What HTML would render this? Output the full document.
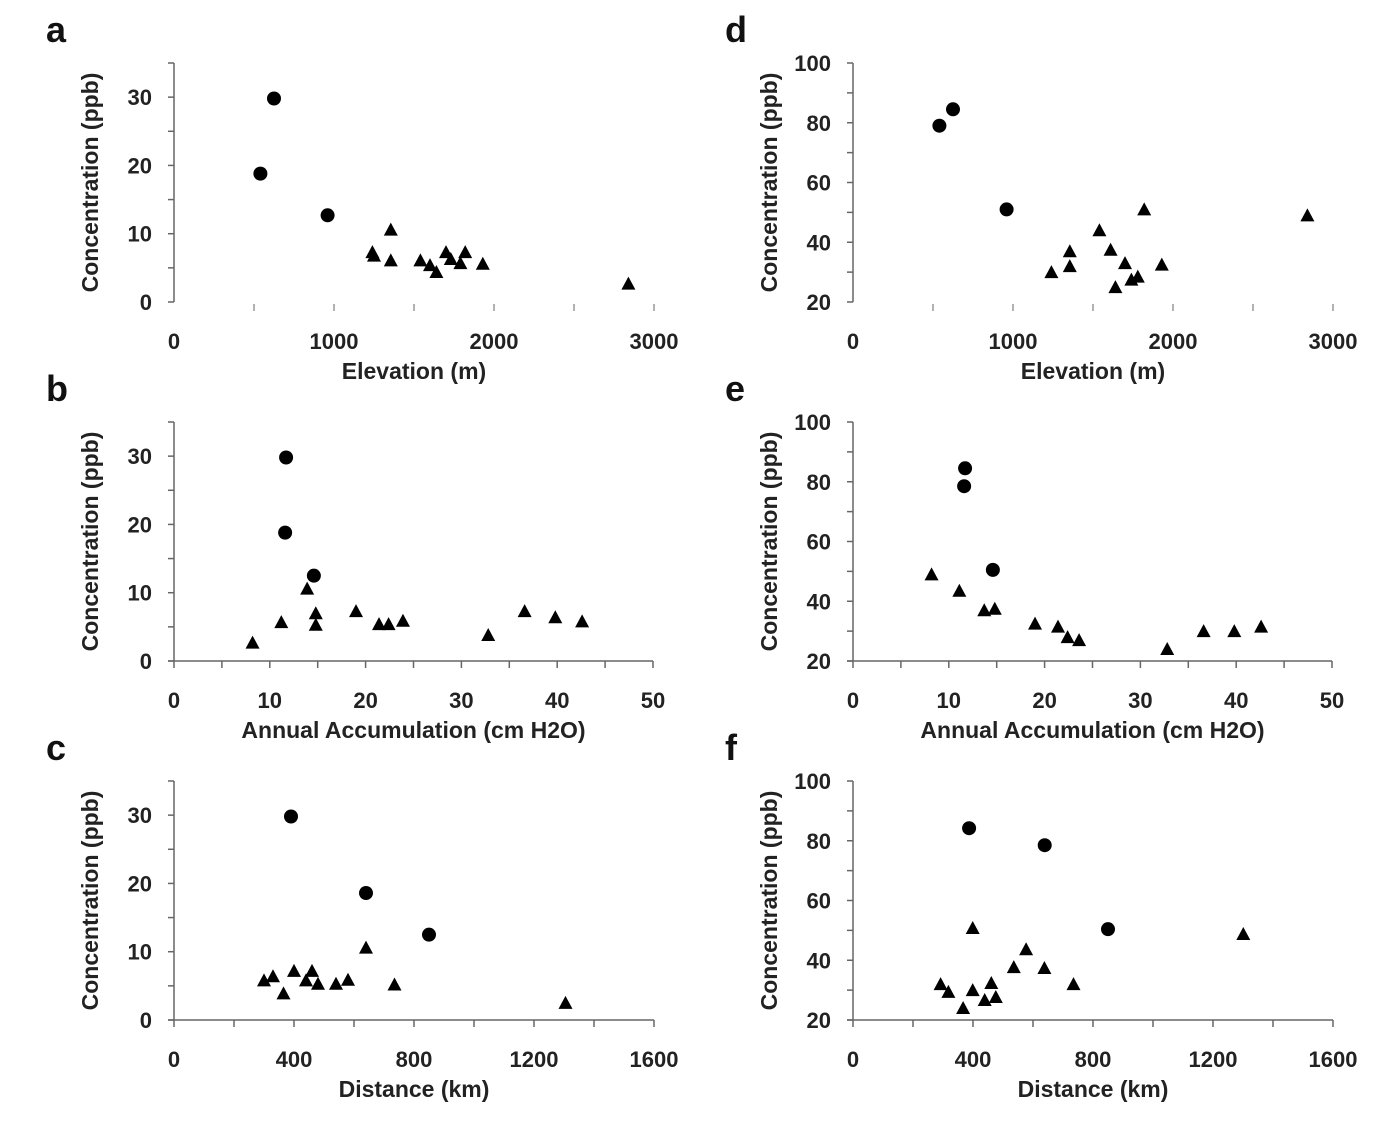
<!DOCTYPE html>
<html><head><meta charset="utf-8">
<style>
body{margin:0;background:#fff;}
svg{display:block;font-family:"Liberation Sans",Arial,sans-serif;}
.tl{font-size:22px;font-weight:bold;fill:#222;}
.at{font-size:23px;font-weight:bold;fill:#222;}
.pl{font-size:36px;font-weight:bold;fill:#111;}
</style></head>
<body>
<svg id="fig" width="1400" height="1122" viewBox="0 0 1400 1122"></svg>
<script>
// Panel a: elevation vs concentration (left scale)
const aCircX=[540,625,960];
const aCircY=[18.8,29.8,12.7];
const aTriX=[1240,1250,1355,1355,1540,1600,1640,1700,1730,1790,1820,1930,2840];
const aTriY=[7.3,6.8,10.6,6.1,6.1,5.4,4.4,7.3,6.3,5.7,7.3,5.6,2.7];
// Panel b: accumulation
const bCircX=[11.7,11.6,14.6];
const bCircY=[29.8,18.8,12.5];
const bTriX=[8.2,11.2,13.9,14.8,14.8,19,21.4,22.4,23.9,32.8,36.6,39.8,42.6];
const bTriY=[2.7,5.7,10.6,7.0,5.3,7.3,5.4,5.4,5.9,3.8,7.3,6.4,5.8];
// Panel c: distance
const cCircX=[390,640,850];
const cCircY=[29.8,18.6,12.5];
const cTriX=[300,330,365,400,440,460,480,540,580,640,735,1305];
const cTriY=[5.8,6.4,3.9,7.2,5.8,7.2,5.3,5.3,5.9,10.6,5.2,2.5];
// Panel d
const dCircX=[540,625,960];
const dCircY=[79,84.5,51];
const dTriX=[1240,1355,1355,1540,1610,1640,1700,1740,1780,1820,1930,2840];
const dTriY=[30,37,32,44,37.5,25,33,27.5,28.5,51,32.5,49];
// Panel e
const eCircX=[11.6,11.7,14.6];
const eCircY=[78.5,84.5,50.5];
const eTriX=[8.2,11.1,13.7,14.8,19,21.4,22.4,23.6,32.8,36.6,39.8,42.6];
const eTriY=[49,43.5,37,37.5,32.5,31.5,28,27,24,30,30,31.5];
// Panel f
const fCircX=[387,639,850];
const fCircY=[84.2,78.5,50.4];
const fTriX=[292,318,367,399,399,439,461,476,536,577,638,735,1301];
const fTriY=[32,29.4,24,50.8,30,26.7,32.4,27.7,37.7,43.7,37.4,32,48.8];
// Axis ticks
const elevTicks=[0,1000,2000,3000];
const accTicks=[0,10,20,30,40,50];
const distTicks=[0,400,800,1200,1600];
const leftYTicks=[0,10,20,30];
const rightYTicks=[20,40,60,80,100];

const NS="http://www.w3.org/2000/svg";
const svg=document.getElementById('fig');
function mk(tag,attrs,parent){const e=document.createElementNS(NS,tag);for(const k in attrs)e.setAttribute(k,attrs[k]);(parent||svg).appendChild(e);return e;}

const panels=[
 {id:'a',L:174,R:654,T:63,B:302,xmin:0,xmax:3000,ymin:0,ymax:35,xt:elevTicks,xminor:500,yt:leftYTicks,yminor:5,xline:false,xt_title:'Elevation (m)',cx:aCircX,cy:aCircY,tx:aTriX,ty:aTriY},
 {id:'b',L:174,R:653,T:422,B:661,xmin:0,xmax:50,ymin:0,ymax:35,xt:accTicks,xminor:5,yt:leftYTicks,yminor:5,xline:true,xt_title:'Annual Accumulation (cm H2O)',cx:bCircX,cy:bCircY,tx:bTriX,ty:bTriY},
 {id:'c',L:174,R:654,T:781,B:1020,xmin:0,xmax:1600,ymin:0,ymax:35,xt:distTicks,xminor:200,yt:leftYTicks,yminor:5,xline:true,xt_title:'Distance (km)',cx:cCircX,cy:cCircY,tx:cTriX,ty:cTriY},
 {id:'d',L:853,R:1333,T:63,B:302,xmin:0,xmax:3000,ymin:20,ymax:100,xt:elevTicks,xminor:500,yt:rightYTicks,yminor:10,xline:false,xt_title:'Elevation (m)',cx:dCircX,cy:dCircY,tx:dTriX,ty:dTriY},
 {id:'e',L:853,R:1332,T:422,B:661,xmin:0,xmax:50,ymin:20,ymax:100,xt:accTicks,xminor:5,yt:rightYTicks,yminor:10,xline:true,xt_title:'Annual Accumulation (cm H2O)',cx:eCircX,cy:eCircY,tx:eTriX,ty:eTriY},
 {id:'f',L:853,R:1333,T:781,B:1020,xmin:0,xmax:1600,ymin:20,ymax:100,xt:distTicks,xminor:200,yt:rightYTicks,yminor:10,xline:true,xt_title:'Distance (km)',cx:fCircX,cy:fCircY,tx:fTriX,ty:fTriY}
];
const AX='#666';
panels.forEach(p=>{
 const g=mk('g',{});
 
 
 const X=v=>p.L+(v-p.xmin)/(p.xmax-p.xmin)*(p.R-p.L);
 const Y=v=>p.B-(v-p.ymin)/(p.ymax-p.ymin)*(p.B-p.T);
 const lab=mk('text',{x:p.L-128,y:p.T-21,class:'pl'},g);lab.textContent=p.id;
 
 
 const ya=mk('line',{x1:p.L,y1:p.T,x2:p.L,y2:p.B,stroke:AX,'stroke-width':1.5},g);
 
 
 for(let v=p.ymin;v<=p.ymax+1e-9;v+=p.yminor){mk('line',{x1:p.L-6,y1:Y(v),x2:p.L,y2:Y(v),stroke:AX,'stroke-width':1.5},g);}
 p.yt.forEach(v=>{const t=mk('text',{x:p.L-22,y:Y(v)+8,'text-anchor':'end',class:'tl'},g);t.textContent=v;
  
  });
 const yt=mk('text',{x:0,y:0,'text-anchor':'middle',class:'at',transform:`translate(${p.L-76},${(p.T+p.B)/2}) rotate(-90)`},g);
 yt.textContent='Concentration (ppb)';
 
 
 if(p.xline){const xa=mk('line',{x1:p.L-6,y1:p.B,x2:p.R,y2:p.B,stroke:AX,'stroke-width':1.5},g);
  
  }
 for(let v=p.xmin;v<=p.xmax+1e-9;v+=p.xminor){
  if(p.xline) mk('line',{x1:X(v),y1:p.B,x2:X(v),y2:p.B+7,stroke:AX,'stroke-width':1.5},g);
  else if(v>0) mk('line',{x1:X(v),y1:p.B+2,x2:X(v),y2:p.B+9,stroke:'#999','stroke-width':1.5},g);
 }
 p.xt.forEach(v=>{const t=mk('text',{x:X(v),y:p.B+47,'text-anchor':'middle',class:'tl'},g);t.textContent=v;
  
  });
 const xt=mk('text',{x:(p.L+p.R)/2,y:p.B+77,'text-anchor':'middle',class:'at'},g);xt.textContent=p.xt_title;
 
 
 p.cx.forEach((v,i)=>{const c=mk('circle',{cx:X(v),cy:Y(p.cy[i]),r:7,fill:'#000'},g);
  
  });
 p.tx.forEach((v,i)=>{const x=X(v),y=Y(p.ty[i]);
  const t=mk('polygon',{points:`${x},${y-7} ${x-7},${y+6} ${x+7},${y+6}`,fill:'#000'},g);
  
  });
});
</script>
</body></html>
